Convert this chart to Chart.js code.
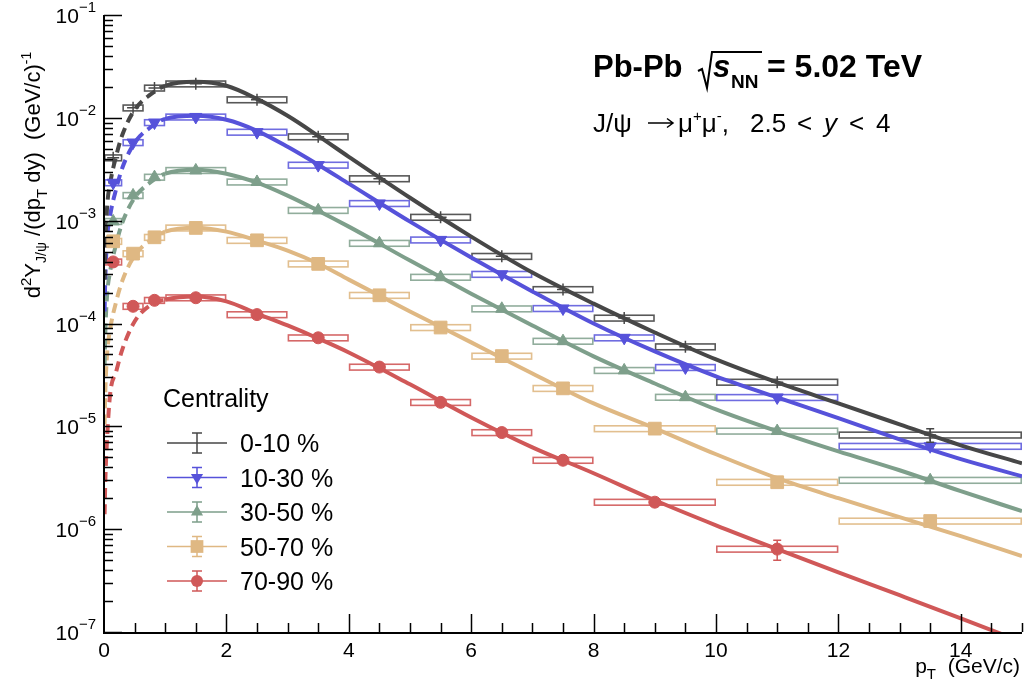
<!DOCTYPE html>
<html><head><meta charset="utf-8">
<script src="https://cdn.jsdelivr.net/npm/chart.js@4/dist/chart.umd.min.js"></script>
<style>html,body{margin:0;padding:0;background:#fff}canvas{display:block}</style>
</head><body>
<canvas id="c" width="1027" height="688"></canvas>
<script>
// ---------------- data ----------------
const seriesNames = ['0-10 %', '10-30 %', '30-50 %', '50-70 %', '70-90 %'];
const binsA      = [0, 0.3, 0.65, 1, 2, 3, 4, 5, 6, 7, 8, 9, 10, 12, 15];
const binsOrange = [0, 0.3, 0.65, 1, 2, 3, 4, 5, 6, 7, 8, 10, 12, 15];
const binsRed    = [0, 0.3, 0.65, 1, 2, 3, 4, 5, 6, 7, 8, 10, 12];

const y0010 = [4.09e-3, 0.0125, 0.0195, 0.0214, 0.0150, 6.55e-3, 2.56e-3, 1.08e-3, 4.5e-4, 2.14e-4, 1.13e-4, 5.94e-5, 2.69e-5, 8.24e-6];
const y1030 = [2.34e-3, 5.75e-3, 9.0e-3, 0.0102, 7.26e-3, 3.47e-3, 1.47e-3, 6.5e-4, 3.01e-4, 1.40e-4, 7.26e-5, 3.74e-5, 1.91e-5, 6.4e-6];
const y3050 = [9.84e-4, 1.76e-3, 2.65e-3, 3.08e-3, 2.38e-3, 1.26e-3, 6.03e-4, 2.82e-4, 1.39e-4, 6.73e-5, 3.50e-5, 1.92e-5, 9.0e-6, 2.99e-6];
const y5070 = [6.3e-4, 4.78e-4, 6.89e-4, 8.5e-4, 6.44e-4, 3.80e-4, 1.88e-4, 9.14e-5, 4.82e-5, 2.34e-5, 9.5e-6, 2.86e-6, 1.2e-6];
const y7090 = [3.97e-4, 1.47e-4, 1.68e-4, 1.78e-4, 1.22e-4, 7.26e-5, 3.77e-5, 1.71e-5, 8.7e-6, 4.68e-6, 1.83e-6, 6.4e-7];

// relative statistical uncertainties
const stat0010 = [0.03, 0.02, 0.02, 0.01, 0.01, 0.01, 0.02, 0.02, 0.03, 0.04, 0.05, 0.07, 0.08, 0.15];
const stat1030 = [0.03, 0.02, 0.02, 0.01, 0.01, 0.01, 0.02, 0.02, 0.03, 0.04, 0.05, 0.06, 0.07, 0.12];
const stat3050 = [0.04, 0.03, 0.02, 0.02, 0.02, 0.02, 0.02, 0.03, 0.04, 0.05, 0.06, 0.07, 0.08, 0.10];
const stat5070 = [0.05, 0.04, 0.04, 0.03, 0.03, 0.03, 0.04, 0.05, 0.06, 0.07, 0.08, 0.10, 0.12];
const stat7090 = [0.05, 0.07, 0.06, 0.04, 0.04, 0.04, 0.05, 0.06, 0.08, 0.09, 0.11, 0.22];
const SYS_REL = 0.065; // relative systematic (box half-height)

// fitted curves
const fitPt   = [0.01, 0.02, 0.05, 0.1, 0.2, 0.3, 0.5, 0.75, 1, 1.5, 2, 2.5, 3, 3.5, 4, 5, 6, 7, 8, 9, 10, 11, 12, 13, 14, 15];
const fit0010 = [2.67e-4, 5.23e-4, 1.34e-3, 2.29e-3, 4.28e-3, 6.84e-3, 0.01197, 0.0167, 0.0205, 0.0224, 0.0205, 0.01528, 0.01046, 6.68e-3, 4.18e-3, 1.67e-3, 7.0e-4, 3.13e-4, 1.56e-4, 8.18e-5, 4.47e-5, 2.67e-5, 1.67e-5, 1.045e-5, 6.54e-6, 4.37e-6];
const fit1030 = [1.31e-4, 2.56e-4, 6.55e-4, 1.12e-3, 2.05e-3, 3.27e-3, 5.72e-3, 8.0e-3, 9.78e-3, 0.01046, 9.57e-3, 7.48e-3, 5.23e-3, 3.50e-3, 2.29e-3, 9.78e-4, 4.38e-4, 2.05e-4, 1.0e-4, 5.35e-5, 3.06e-5, 1.91e-5, 1.20e-5, 7.48e-6, 4.79e-6, 3.27e-6];
const fit3050 = [3.91e-5, 7.64e-5, 1.87e-4, 3.20e-4, 5.98e-4, 9.57e-4, 1.67e-3, 2.34e-3, 2.86e-3, 3.13e-3, 2.86e-3, 2.34e-3, 1.75e-3, 1.25e-3, 8.75e-4, 4.09e-4, 1.95e-4, 9.57e-5, 4.79e-5, 2.61e-5, 1.46e-5, 8.94e-6, 5.71e-6, 3.74e-6, 2.34e-6, 1.50e-6];
const fit5070 = [1.045e-5, 2.05e-5, 5.0e-5, 8.75e-5, 1.64e-4, 2.61e-4, 4.57e-4, 6.40e-4, 7.82e-4, 8.55e-4, 7.82e-4, 6.40e-4, 5.12e-4, 3.83e-4, 2.67e-4, 1.31e-4, 6.55e-5, 3.27e-5, 1.67e-5, 9.57e-6, 5.35e-6, 3.13e-6, 2.0e-6, 1.31e-6, 8.55e-7, 5.47e-7];
const fit7090 = [1.40e-6, 2.74e-6, 7.48e-6, 2.05e-5, 3.42e-5, 5.6e-5, 1.045e-4, 1.50e-4, 1.71e-4, 1.83e-4, 1.64e-4, 1.25e-4, 9.57e-5, 7.15e-5, 5.23e-5, 2.56e-5, 1.22e-5, 6.25e-6, 3.50e-6, 1.91e-6, 1.09e-6, 6.4e-7, 3.8e-7, 2.28e-7, 1.36e-7, 8.0e-8];
const DASH_BELOW_PT = 1;

const xTickLabels = [0, 2, 4, 6, 8, 10, 12, 14];
const yTickExps = [-1, -2, -3, -4, -5, -6, -7];

// ---------------- styles ----------------
const FONT = '"Liberation Sans", Arial, Helvetica, sans-serif';
const colors = ['#474747', '#5652da', '#7e9f8b', '#dfb883', '#d05858'];
const boxColors = ['rgba(70,70,70,0.9)', 'rgba(86,82,218,0.85)', 'rgba(126,159,139,0.85)', 'rgba(223,184,131,0.9)', 'rgba(208,88,88,0.9)'];
const markers = [
  {style: 'cross', r: 6, rot: 0},
  {style: 'triangle', r: 7, rot: 180},
  {style: 'triangle', r: 7, rot: 0},
  {style: 'rect', r: 9, rot: 0},
  {style: 'circle', r: 6, rot: 0}
];

const series = [
  {bins: binsA, vals: y0010, stat: stat0010, fit: fit0010},
  {bins: binsA, vals: y1030, stat: stat1030, fit: fit1030},
  {bins: binsA, vals: y3050, stat: stat3050, fit: fit3050},
  {bins: binsOrange, vals: y5070, stat: stat5070, fit: fit5070},
  {bins: binsRed, vals: y7090, stat: stat7090, fit: fit7090}
];

const datasets = [];
series.forEach((s, i) => {
  datasets.push({
    label: seriesNames[i] + ' fit',
    data: fitPt.map((x, k) => ({x: x, y: s.fit[k]})),
    borderColor: colors[i], borderWidth: 4, pointRadius: 0, fill: false,
    cubicInterpolationMode: 'monotone',
    segment: {borderDash: ctx => ctx.p1.parsed.x <= DASH_BELOW_PT ? [10, 6] : undefined},
    order: 2
  });
});
series.forEach((s, i) => {
  const centers = s.vals.map((v, k) => (s.bins[k] + s.bins[k + 1]) / 2);
  datasets.push({
    label: seriesNames[i],
    data: centers.map((x, k) => ({x: x, y: s.vals[k]})),
    showLine: false,
    pointStyle: markers[i].style, pointRadius: markers[i].r, pointRotation: markers[i].rot,
    pointBackgroundColor: colors[i], pointBorderColor: colors[i], pointBorderWidth: markers[i].style === 'cross' ? 1.5 : 1,
    pointHoverRadius: markers[i].r,
    order: 0
  });
});

function drawSymbol(ctx, style, rot, x, y, r, color) {
  ctx.save();
  ctx.fillStyle = color; ctx.strokeStyle = color; ctx.lineWidth = 1.5;
  ctx.beginPath();
  if (style === 'cross') {
    ctx.moveTo(x - r, y); ctx.lineTo(x + r, y); ctx.moveTo(x, y - r); ctx.lineTo(x, y + r); ctx.stroke();
  } else if (style === 'circle') {
    ctx.arc(x, y, r, 0, Math.PI * 2); ctx.fill();
  } else if (style === 'rect') {
    const h = r * Math.SQRT1_2; ctx.rect(x - h, y - h, 2 * h, 2 * h); ctx.fill();
  } else if (style === 'triangle') {
    const a = rot * Math.PI / 180;
    for (let k = 0; k < 3; k++) {
      const t = a + k * 2 * Math.PI / 3;
      const px = x + Math.sin(t) * r, py = y - Math.cos(t) * r;
      if (k === 0) ctx.moveTo(px, py); else ctx.lineTo(px, py);
    }
    ctx.closePath(); ctx.fill();
  }
  ctx.restore();
}

function drawPieces(ctx, pieces, x, y) {
  let cx = x;
  pieces.forEach(p => {
    if (p.at !== undefined) cx = p.at;
    ctx.font = (p.style || '') + ' ' + p.f + 'px ' + FONT;
    ctx.fillText(p.t, cx, y + (p.dy || 0));
    cx += ctx.measureText(p.t).width + (p.gap || 0);
  });
  return cx;
}
function piecesWidth(ctx, pieces) {
  let w = 0;
  pieces.forEach(p => { ctx.font = (p.style || '') + ' ' + p.f + 'px ' + FONT; w += ctx.measureText(p.t).width + (p.gap || 0); });
  return w;
}

const rootPlugin = {
  id: 'rootStyle',
  beforeDatasetsDraw(chart) {
    const ctx = chart.ctx, xs = chart.scales.x, ys = chart.scales.y;
    ctx.save();
    ctx.lineWidth = 1.6;
    series.forEach((s, i) => {
      ctx.strokeStyle = boxColors[i];
      s.vals.forEach((v, k) => {
        const x1 = xs.getPixelForValue(s.bins[k]), x2 = xs.getPixelForValue(s.bins[k + 1]);
        const y1 = ys.getPixelForValue(v * (1 + SYS_REL)), y2 = ys.getPixelForValue(v * (1 - SYS_REL));
        ctx.strokeRect(x1 + 0.8, y1, x2 - x1 - 1.6, y2 - y1);
      });
    });
    ctx.restore();
  },
  afterDatasetsDraw(chart) {
    const ctx = chart.ctx, xs = chart.scales.x, ys = chart.scales.y;
    ctx.save();
    ctx.lineWidth = 1.5;
    series.forEach((s, i) => {
      ctx.strokeStyle = colors[i];
      s.vals.forEach((v, k) => {
        const x = xs.getPixelForValue((s.bins[k] + s.bins[k + 1]) / 2);
        const yt = ys.getPixelForValue(v * (1 + s.stat[k])), yb = ys.getPixelForValue(v * (1 - s.stat[k]));
        if ((yb - yt) / 2 > markers[i].r * 0.9) {
          ctx.beginPath();
          ctx.moveTo(x, yt); ctx.lineTo(x, yb);
          ctx.moveTo(x - 4, yt); ctx.lineTo(x + 4, yt);
          ctx.moveTo(x - 4, yb); ctx.lineTo(x + 4, yb);
          ctx.stroke();
        }
      });
    });
    ctx.restore();
  },
  afterDraw(chart) {
    const ctx = chart.ctx, xs = chart.scales.x, ys = chart.scales.y, a = chart.chartArea;
    ctx.save();
    ctx.fillStyle = '#000'; ctx.strokeStyle = '#000';
    // axes
    ctx.lineWidth = 2;
    ctx.beginPath();
    ctx.moveTo(a.left, a.top); ctx.lineTo(a.left, a.bottom + 1); ctx.lineTo(a.right, a.bottom + 1);
    ctx.stroke();
    ctx.lineWidth = 1.5;
    ctx.beginPath();
    yTickExps.forEach(e => {
      const y = Math.round(ys.getPixelForValue(Math.pow(10, e))) + 0.5;
      ctx.moveTo(a.left, y); ctx.lineTo(a.left + 18, y);
      if (e < -1) {
        for (let m = 2; m <= 9; m++) {
          const yy = Math.round(ys.getPixelForValue(m * Math.pow(10, e))) + 0.5;
          ctx.moveTo(a.left, yy); ctx.lineTo(a.left + 9, yy);
        }
      }
    });
    for (let v = 0.5; v <= 15; v += 0.5) {
      const x = Math.round(xs.getPixelForValue(v)) + 0.5;
      const major = Math.abs(v / 2 - Math.round(v / 2)) < 1e-9;
      ctx.moveTo(x, a.bottom); ctx.lineTo(x, a.bottom - (major ? 18 : 9));
    }
    ctx.stroke();

    // tick labels
    ctx.textBaseline = 'alphabetic';
    ctx.textAlign = 'center';
    ctx.font = '21px ' + FONT;
    xTickLabels.forEach(v => {
      ctx.fillText(String(v), xs.getPixelForValue(v), a.bottom + 25);
    });
    ctx.textAlign = 'left';
    yTickExps.forEach(e => {
      const y = ys.getPixelForValue(Math.pow(10, e));
      const pieces = [{t: '10', f: 21}, {t: '\u2212' + Math.abs(e), f: 15, dy: -11}];
      const w = piecesWidth(ctx, pieces);
      drawPieces(ctx, pieces, 96 - w, y + 8);
    });

    // y title (rotated)
    const yt = [
      {t: 'd', f: 22}, {t: '2', f: 15, dy: -9}, {t: 'Y', f: 22}, {t: 'J/\u03c8', f: 14, dy: 6},
      {t: ' /(dp', f: 22}, {t: 'T', f: 15, dy: 7}, {t: ' dy)  (GeV/c)', f: 22}, {t: '-1', f: 14, dy: -9}
    ];
    ctx.save();
    ctx.translate(40, 175);
    ctx.rotate(-Math.PI / 2);
    const yw = piecesWidth(ctx, yt);
    drawPieces(ctx, yt, -yw / 2, 0);
    ctx.restore();

    // x title
    const xt = [{t: 'p', f: 21}, {t: 'T', f: 15, dy: 6}, {t: '  (GeV/c)', f: 21}];
    const xw = piecesWidth(ctx, xt);
    drawPieces(ctx, xt, 1020 - xw, 673);

    // header
    ctx.font = 'bold 31px ' + FONT;
    ctx.fillText('Pb-Pb', 593, 77);
    ctx.lineWidth = 2;
    ctx.beginPath();
    ctx.moveTo(698, 71); ctx.lineTo(702, 69); ctx.lineTo(707, 88); ctx.lineTo(712, 52); ctx.lineTo(762, 52);
    ctx.stroke();
    ctx.font = 'italic bold 31px ' + FONT;
    ctx.fillText('s', 713, 77);
    ctx.font = 'bold 19px ' + FONT;
    ctx.fillText('NN', 731, 88);
    ctx.font = 'bold 32px ' + FONT;
    ctx.fillText('= 5.02 TeV', 767, 77);

    // second line
    const base2 = 132;
    drawPieces(ctx, [{t: 'J/\u03c8', f: 26}], 593, base2);
    ctx.lineWidth = 1.5;
    ctx.beginPath();
    ctx.moveTo(648, 123); ctx.lineTo(673, 123);
    ctx.moveTo(667, 118.5); ctx.lineTo(673, 123); ctx.lineTo(667, 127.5);
    ctx.stroke();
    drawPieces(ctx, [
      {t: '\u03bc', f: 26, at: 678}, {t: '+', f: 15, dy: -11}, {t: '\u03bc', f: 26}, {t: '-', f: 15, dy: -11}, {t: ',', f: 26},
      {t: '2.5', f: 26, at: 750}, {t: '<', f: 26, at: 797}, {t: 'y', f: 26, style: 'italic', at: 824},
      {t: '<', f: 26, at: 849}, {t: '4', f: 26, at: 876}
    ], 678, base2);

    // legend
    ctx.font = '25px ' + FONT;
    ctx.fillText('Centrality', 163, 407);
    seriesNames.forEach((n, i) => {
      const yc = 443 + i * 34.5;
      ctx.strokeStyle = colors[i]; ctx.lineWidth = 1.5;
      ctx.beginPath();
      ctx.moveTo(167, yc); ctx.lineTo(227, yc);
      ctx.moveTo(197, yc - 10); ctx.lineTo(197, yc + 10);
      ctx.moveTo(192, yc - 10); ctx.lineTo(202, yc - 10);
      ctx.moveTo(192, yc + 10); ctx.lineTo(202, yc + 10);
      ctx.stroke();
      if (markers[i].style !== 'cross') drawSymbol(ctx, markers[i].style, markers[i].rot, 197, yc, markers[i].r, colors[i]);
      ctx.fillStyle = '#000';
      ctx.font = '25px ' + FONT;
      ctx.fillText(n, 240, yc + 9);
    });
    ctx.restore();
  }
};

new Chart(document.getElementById('c').getContext('2d'), {
  type: 'line',
  data: {datasets: datasets},
  options: {
    responsive: false, animation: false, devicePixelRatio: 1,
    layout: {padding: {left: 0, right: 5, top: 15, bottom: 0}, autoPadding: false},
    plugins: {legend: {display: false}, tooltip: {enabled: false}},
    events: [],
    scales: {
      x: {type: 'linear', min: 0, max: 15, grid: {display: false}, ticks: {display: false}, border: {display: false},
          afterFit(s) { s.height = 56; }},
      y: {type: 'logarithmic', min: 1e-7, max: 1e-1, grid: {display: false}, ticks: {display: false}, border: {display: false},
          afterFit(s) { s.width = 104; }}
    }
  },
  plugins: [rootPlugin]
});
</script>
</body></html>
